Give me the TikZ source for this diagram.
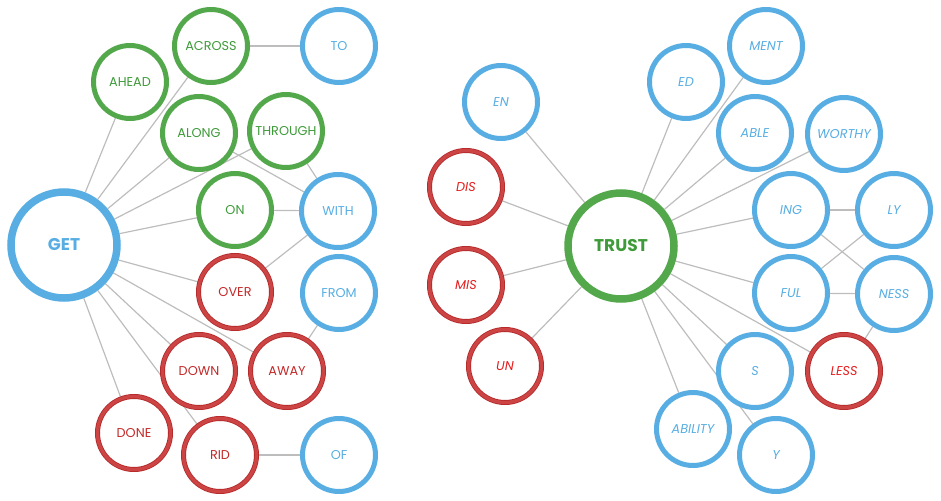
\documentclass[tikz,border=0pt]{standalone}
\usepackage{fontspec}
\setmainfont{Poppins}
\usetikzlibrary{backgrounds}
\definecolor{cblue}{HTML}{58AEE3}
\definecolor{cgreen}{HTML}{54A84C}
\definecolor{tgreen}{HTML}{3F9B3A}
\definecolor{cred}{HTML}{CC4444}
\definecolor{cdred}{HTML}{B32828}
\definecolor{tred}{HTML}{C42A2A}
\definecolor{tred2}{HTML}{E41E1E}
\definecolor{cline}{HTML}{BDBDBD}
\tikzset{
  ring/.style={circle, minimum size=73pt, inner sep=0pt, fill=white, font=\fontsize{12.8}{14}\selectfont},
  bring/.style={ring, draw=cblue, line width=5pt, text=cblue},
  gring/.style={ring, draw=cgreen, line width=5pt, text=tgreen},
  rring/.style={ring, draw=cdred, line width=0.8pt, double=cred, double distance=3.4pt, text=tred},
  big/.style={circle, minimum size=106pt, inner sep=0pt, fill=white, line width=7.5pt, font=\fontsize{17}{19}\selectfont\bfseries},
  it/.style={font=\fontsize{12.8}{14}\selectfont\itshape},
  link/.style={draw=cline, line width=1.2pt},
}
\begin{document}
\begin{tikzpicture}[x=1pt,y=-1pt]
\useasboundingbox (0,0) rectangle (941,500);
% left cluster
\node[big, draw=cblue, text=cblue] (get) at (64,245) {GET};
\node[gring] (ahead) at (130,82) {AHEAD};
\node[gring] (across) at (211,46) {ACROSS};
\node[bring] (to) at (339,46) {TO};
\node[gring] (along) at (199,133) {ALONG};
\node[gring] (through) at (286,131) {THROUGH};
\node[gring] (on) at (235,210) {ON};
\node[bring] (with) at (338,211) {WITH};
\node[rring] (over) at (235,292) {OVER};
\node[bring] (from) at (339,293) {FROM};
\node[rring] (down) at (199,371) {DOWN};
\node[rring] (away) at (287,371) {AWAY};
\node[rring] (done) at (134,433) {DONE};
\node[rring] (rid) at (220,455) {RID};
\node[bring] (of) at (339,455) {OF};
% right cluster
\node[big, draw=cgreen, text=tgreen] (trust) at (621,246) {TRUST};
\node[bring, it] (en) at (501,102) {EN};
\node[rring, it, text=tred2] (dis) at (466,187) {DIS};
\node[rring, it, text=tred2] (mis) at (466,285) {MIS};
\node[rring, it, text=tred2] (un) at (505,366) {UN};
\node[bring, it] (ed) at (686,82) {ED};
\node[bring, it] (ment) at (766,46) {MENT};
\node[bring, it] (able) at (755,133) {ABLE};
\node[bring, it] (worthy) at (844,134) {WORTHY};
\node[bring, it] (ing) at (791,210) {ING};
\node[bring, it] (ly) at (894,210) {LY};
\node[bring, it] (ful) at (791,293) {FUL};
\node[bring, it] (ness) at (894,294) {NESS};
\node[bring, it] (s) at (755,371) {S};
\node[rring, it, text=tred2] (less) at (844,371) {LESS};
\node[bring, it] (ability) at (693,429) {ABILITY};
\node[bring, it] (y) at (776,455) {Y};
\begin{scope}[on background layer]
\foreach \n in {ahead,across,along,through,on,over,away,down,rid,done}
  \path[link] (get) -- (\n);
\path[link] (across) -- (to);
\path[link] (on) -- (with);
\path[link] (along) -- (with);
\path[link] (through) -- (with);
\path[link] (over) -- (with);
\path[link] (away) -- (from);
\path[link] (rid) -- (of);
\foreach \n in {en,dis,mis,un,ed,ment,able,worthy,ing,ful,less,s,ability,y}
  \path[link] (trust) -- (\n);
\path[link] (ing) -- (ly);
\path[link] (ing) -- (ness);
\path[link] (ful) -- (ly);
\path[link] (ful) -- (ness);
\path[link] (ness) -- (less);
\end{scope}
\end{tikzpicture}
\end{document}
